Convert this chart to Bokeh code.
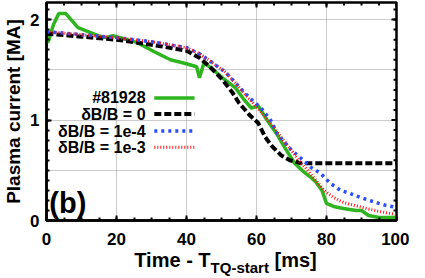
import math
from bokeh.plotting import figure
from bokeh.models import FixedTicker, Label, Range1d, Div
from bokeh.layouts import column
from bokeh.embed import file_html
from bokeh.resources import INLINE

# ---- data ----
t_exp = [0, 0.5, 2, 3.5, 5.5, 9, 14.8, 17, 19, 21, 26, 30.8, 35.4, 40, 42.9, 43.7, 45, 47,
         50.3, 54, 56.5, 58.5, 60.5, 63, 66, 68, 70.9, 73, 75.5, 77, 78.7, 80, 82, 84.8,
         88.5, 90, 92, 95, 100]
i_exp = [1.78, 1.78, 1.95, 2.06, 2.06, 1.92, 1.84, 1.82, 1.84, 1.82, 1.77, 1.68, 1.60, 1.56,
         1.53, 1.42, 1.57, 1.52, 1.42, 1.32, 1.20, 1.12, 1.14, 1.00, 0.85, 0.73, 0.57, 0.50,
         0.43, 0.38, 0.30, 0.17, 0.14, 0.12, 0.10, 0.10, 0.05, 0.03, 0.03]

t_db0 = [0, 10, 20, 30, 40, 43.7, 47, 50.3, 53, 55, 58, 60.5, 62.5, 64.4, 67, 69.5, 71.8, 72.5, 100]
i_db0 = [1.86, 1.83, 1.80, 1.75, 1.69, 1.62, 1.52, 1.40, 1.28, 1.17, 1.05, 0.97, 0.83, 0.74,
         0.65, 0.60, 0.58, 0.57, 0.57]

t_db4 = [0, 10, 20, 30, 40, 43.7, 47, 51, 54, 56.6, 59, 61.3, 64, 66, 70, 72.7, 75.5, 78.3,
         81.1, 84, 86.7, 89.6, 92.3, 95, 97, 100]
i_db4 = [1.88, 1.85, 1.82, 1.78, 1.72, 1.66, 1.58, 1.48, 1.37, 1.27, 1.19, 1.12, 1.00, 0.86,
         0.70, 0.62, 0.53, 0.47, 0.37, 0.30, 0.27, 0.23, 0.20, 0.17, 0.15, 0.13]

t_db3 = [0, 10, 20, 30, 40, 43.7, 47, 51, 54, 56.6, 59, 61.3, 64, 67, 70, 72, 74.6, 77, 79.3,
         82, 84.8, 88, 91.4, 95, 100]
i_db3 = [1.88, 1.85, 1.82, 1.78, 1.72, 1.66, 1.58, 1.48, 1.37, 1.26, 1.17, 1.08, 0.97, 0.83,
         0.70, 0.60, 0.50, 0.40, 0.30, 0.23, 0.18, 0.15, 0.12, 0.09, 0.06]

series_names = ["#81928", "\u03b4B/B = 0", "\u03b4B/B = 1e-4", "\u03b4B/B = 1e-3"]
x_ticks = [0, 20, 40, 60, 80, 100]
x_minor = list(range(0, 101, 5))
y_ticks = [0, 1, 2]
y_minor = [round(0.1 * i, 1) for i in range(22)]
X_MAX = 100
Y_MAX = 2.17

FONT = "Liberation Sans"
GREEN = "#2db41e"
BLUE = "#2a4dff"
RED = "#ff1010"

p = figure(width=409, height=247, output_backend="svg", toolbar_location=None,
           x_range=Range1d(0, X_MAX), y_range=Range1d(0, Y_MAX),
           min_border_left=36, min_border_right=13, min_border_top=2, min_border_bottom=26)
p.background_fill_color = "white"
p.outline_line_color = "black"
p.outline_line_width = 2.5

# axes styling
for ax in (p.xaxis[0], p.yaxis[0]):
    ax.axis_line_width = 2.5
    ax.major_tick_in = 5
    ax.major_tick_out = 0
    ax.minor_tick_in = 3
    ax.minor_tick_out = 0
    ax.major_tick_line_width = 2
    ax.minor_tick_line_width = 2
    ax.major_label_text_font = FONT
    ax.major_label_text_font_style = "bold"
    ax.major_label_text_font_size = "17px"
    ax.major_label_text_color = "black"

p.xaxis.ticker = FixedTicker(ticks=x_ticks, minor_ticks=x_minor)
p.yaxis.ticker = FixedTicker(ticks=y_ticks, minor_ticks=y_minor)
p.xaxis.major_label_standoff = 12
p.yaxis.major_label_standoff = 7

p.yaxis.axis_label = "Plasma current [MA]"
p.yaxis.axis_label_text_font = FONT
p.yaxis.axis_label_text_font_style = "bold"
p.yaxis.axis_label_text_font_size = "19px"
p.yaxis.axis_label_text_color = "black"
p.yaxis.axis_label_standoff = 3

# grid
p.xgrid.ticker = FixedTicker(ticks=[20, 40, 60, 80])
p.ygrid.ticker = FixedTicker(ticks=[0.5, 1, 1.5, 2])
for g in (p.xgrid[0], p.ygrid[0]):
    g.grid_line_color = "#999999"
    g.grid_line_dash = "1 1"
    g.grid_line_width = 1

# mirrored inward ticks on top and right (half of each dash is clipped by the frame)
p.dash(x=x_ticks, y=[Y_MAX] * len(x_ticks), size=10, angle=math.pi / 2,
       line_color="black", line_width=2)
p.dash(x=x_minor, y=[Y_MAX] * len(x_minor), size=6, angle=math.pi / 2,
       line_color="black", line_width=2)
p.dash(x=[X_MAX] * len(y_ticks), y=y_ticks, size=10, line_color="black", line_width=2)
p.dash(x=[X_MAX] * len(y_minor), y=y_minor, size=6, line_color="black", line_width=2)

# series
p.line(t_exp, i_exp, line_color=GREEN, line_width=3.5)
p.line(t_db0, i_db0, line_color="black", line_width=4, line_dash="7 3")
p.line(t_db4, i_db4, line_color=BLUE, line_width=3.5, line_dash="3 4")
p.line(t_db3, i_db3, line_color=RED, line_width=3, line_dash="1 2")

# manual legend (label on left, sample on right)
leg_y = [1.22, 1.06, 0.89, 0.73]
styles = [(GREEN, 3.5, "solid"), ("black", 4, "7 3"), (BLUE, 3.5, "3 4"), (RED, 3, "1 2")]
for name, yy, (c, w, d) in zip(series_names, leg_y, styles):
    p.add_layout(Label(x=28.3, y=yy, text=name, text_align="right", text_baseline="middle",
                       text_font=FONT, text_font_style="bold", text_font_size="16px",
                       text_color="black"))
    p.segment(x0=[30.8], y0=[yy], x1=[42.3], y1=[yy], line_color=c, line_width=w, line_dash=d)

# panel tag
p.add_layout(Label(x=0.8, y=0.01, text="(b)", text_align="left", text_baseline="bottom",
                   text_font=FONT, text_font_style="bold", text_font_size="29px",
                   text_color="black"))

# x-axis label with subscript
xlabel = Div(
    text=("Time - T<sub style=\"font-size:15px;vertical-align:-6px;line-height:0\">TQ-start</sub> [ms]"),
    width=409, height=15, margin=(0, 0, 0, 0),
    styles={"font-family": "'Liberation Sans', Arial, sans-serif", "font-weight": "bold",
            "font-size": "20px", "color": "black", "text-align": "center",
            "padding-left": "42px", "box-sizing": "border-box", "line-height": "20px",
            "position": "relative", "top": "3px", "overflow": "visible",
            "white-space": "nowrap"})

layout = column(p, xlabel, spacing=0)
open("out.html", "w").write(file_html(layout, INLINE))
